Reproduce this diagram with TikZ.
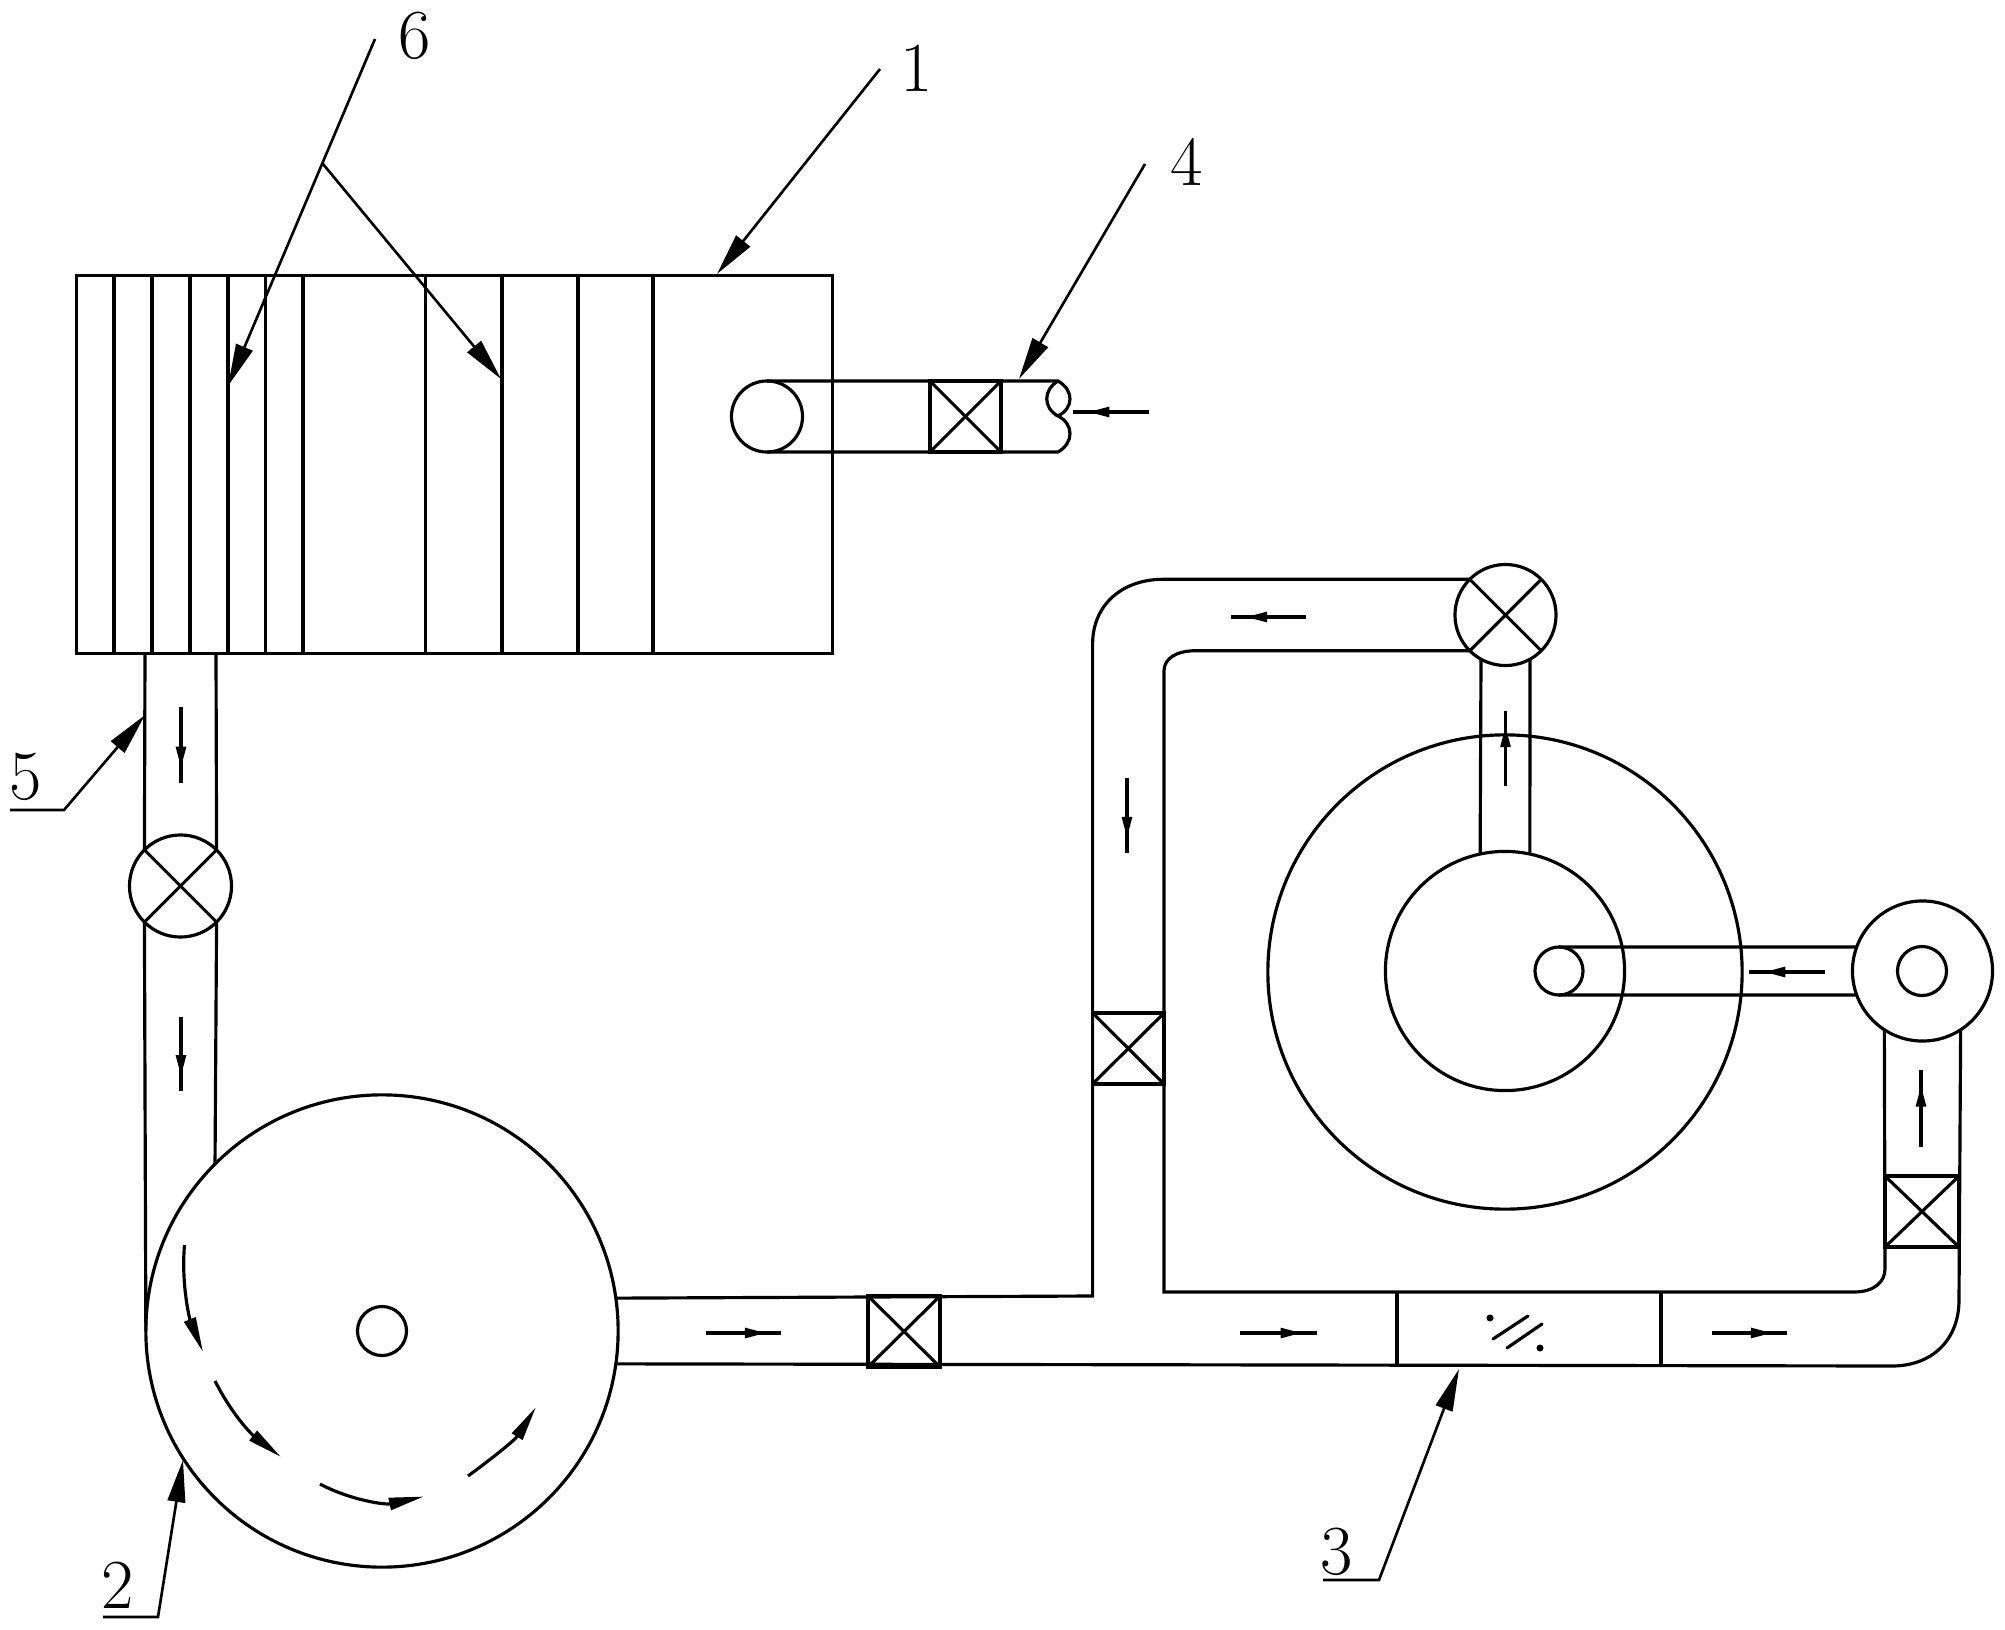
\documentclass[tikz,border=0pt]{standalone}
\usepackage{xcolor}
\usetikzlibrary{arrows.meta,decorations.markings}

\tikzset{
    pipe/.style={line width=0.9pt},
    ring/.style={draw, circle, line width=0.9pt, inner sep=0pt, outer sep=0pt},
    valvebox/.style={draw, rectangle, line width=0.9pt, inner sep=0pt, outer sep=0pt},
    leader/.style={line width=0.75pt, -{Triangle[length=12pt,width=5pt]}},
    tag/.style={inner sep=0pt, font=\fontsize{20}{24}\selectfont},
    flow/.style={line width=0.9pt, postaction={decorate}, decoration={markings,
        mark=at position 0.8 with {\arrow{Triangle[length=6pt,width=2.8pt]}}}},
    swirl/.style={line width=0.9pt, -{Triangle[length=10pt,width=3.4pt]}},
}

\begin{document}
\begin{tikzpicture}[x=0.01cm, y=-0.01cm]
    \useasboundingbox (0,0) rectangle (2005,1630);

    % dryer box and its partitions
    \node[valvebox, minimum width=7.55cm, minimum height=3.77cm] (box) at (454.5,464.5) {};
    \foreach \px in {114,152,190,228,265.5,303,425.5,502,578,653}
        \draw[pipe] (\px,276) -- (\px,653);

    % rings
    \node[ring, minimum size=1.02cm] (valveA) at (180.5,886) {};
    \node[ring, minimum size=1.01cm] (valveB) at (1505.5,615) {};
    \node[ring, minimum size=4.72cm] (drum) at (382,1331) {};
    \node[ring, minimum size=0.49cm] (drumhub) at (382,1331) {};
    \node[ring, minimum size=4.74cm] (outer) at (1505,972) {};
    \node[ring, minimum size=2.39cm] (inner) at (1505,971) {};
    \node[ring, minimum size=0.48cm] (hole) at (1559,971) {};
    \node[ring, minimum size=1.40cm] (fan) at (1922.5,971) {};
    \node[ring, minimum size=0.49cm] (fanhub) at (1922,971) {};
    \node[ring, minimum size=0.71cm] (inlet) at (767,416.5) {};

    % square valves
    \node[valvebox, minimum width=0.71cm, minimum height=0.71cm] (gateA) at (965.5,416.5) {};
    \node[valvebox, minimum width=0.72cm, minimum height=0.71cm] (gateB) at (904,1331.5) {};
    \node[valvebox, minimum width=0.715cm, minimum height=0.71cm] (gateC) at (1128.3,1048.5) {};
    \node[valvebox, minimum width=0.74cm, minimum height=0.71cm] (gateD) at (1922,1211.5) {};
    \foreach \g in {gateA,gateB,gateC,gateD} {
        \draw[pipe] (\g.north west) -- (\g.south east);
        \draw[pipe] (\g.south west) -- (\g.north east);
    }
    \foreach \v/\a/\b in {valveA/45/225,valveA/135/315,valveB/45/225,valveB/135/315}
        \draw[pipe] (\v.\a) -- (\v.\b);

    % inlet pipe with broken end
    \draw[pipe] (inlet.north) -- (1058,381)
        .. controls (1074,390) and (1074,408) .. (1058,416)
        .. controls (1074,424) and (1074,443) .. (1058,452) -- (inlet.south);
    \draw[pipe] (1058,381) .. controls (1043,390) and (1043,408) .. (1058,416);

    % pipe from box down to the drum
    \draw[pipe] (145,653) -- (valveA.135);
    \draw[pipe] (216,653) -- (valveA.45);
    \draw[pipe] (valveA.225) -- (drum.west);
    \draw[pipe] (valveA.315) -- (drum.135);

    % drum outlet, branch and return
    \draw[pipe] (drum.8.5) -- (1092.6,1296) -- (1092.6,644)
        .. controls (1092.6,605) and (1122,579.3) .. (1163,579.3) -- (valveB.135);
    \draw[pipe] (valveB.225) -- (1196,650.7)
        .. controls (1177,650.7) and (1164,658) .. (1164,671) -- (1164,1292)
        -- (1854,1292) .. controls (1874,1292) and (1885,1282) .. (1885,1269) -- (fan.237);
    \draw[pipe] (drum.-8.5) -- (1892,1366)
        .. controls (1932,1366) and (1959,1340) .. (1959,1300) -- (fan.303);
    \draw[pipe] (1397,1292) -- (1397,1366);
    \draw[pipe] (1661,1292) -- (1661,1366);

    % filter mark
    \draw[pipe, line cap=round] (1493,1339) -- (1528,1316);
    \draw[pipe, line cap=round] (1507,1348) -- (1542,1324);
    \fill (1490,1318) circle (3.5);
    \fill (1540,1348) circle (3.5);

    % heater pipes
    \draw[pipe] (valveB.241) -- (inner.102);
    \draw[pipe] (valveB.299) -- (inner.78);
    \draw[pipe] (hole.north) -- (fan.160);
    \draw[pipe] (hole.south) -- (fan.200);

    % flow arrows
    \foreach \xa/\ya/\xb/\yb in {1149/412/1073/412, 181/707/181/783, 181/1017/181/1091,
        706/1333/781/1333, 1240/1333/1317/1333, 1712/1333/1787/1333, 1306/617/1231/617,
        1127/778/1127/853, 1505.5/786/1505.5/711, 1825/972/1749/972, 1921/1147/1921/1070}
        \draw[flow] (\xa,\ya) -- (\xb,\yb);

    % drum rotation
    \draw[swirl] (184.5,1245) .. controls (181,1285) and (190,1320) .. (203,1352);
    \draw[swirl] (215,1381) .. controls (235,1420) and (255,1437) .. (281,1457);
    \draw[swirl] (320,1484) .. controls (350,1500) and (385,1505) .. (424,1496.5);
    \draw[swirl] (468,1476) .. controls (490,1460) and (515,1440) .. (536,1407);

    % labels
    \node[tag] (tagA) at (917,68) {1};
    \node[tag] (tagB) at (118,1585) {2};
    \node[tag] (tagC) at (1337,1552) {3};
    \node[tag] (tagD) at (1187,162) {4};
    \node[tag] (tagE) at (26,777) {5};
    \node[tag] (tagF) at (415,36) {6};

    \coordinate (startA) at (880,69);
    \coordinate (tipA) at (717,274);
    \coordinate (startD) at (1145,164);
    \coordinate (tipD) at (1019,379);
    \coordinate (startF) at (375,39);
    \coordinate (forkF) at (323,164);
    \coordinate (tipF) at (228,386);
    \coordinate (tipG) at (501,379);
    \coordinate (lineB) at (103,1617);
    \coordinate (kneeB) at (158,1617);
    \coordinate (tipB) at (183,1460);
    \coordinate (lineC) at (1323,1580);
    \coordinate (kneeC) at (1379,1580);
    \coordinate (tipC) at (1459,1369);
    \coordinate (lineE) at (10,810);
    \coordinate (kneeE) at (64,810);
    \coordinate (tipE) at (145,715);

    \draw[leader] (startA) -- (tipA);
    \draw[leader] (startD) -- (tipD);
    \draw[leader] (startF) -- (tipF);
    \draw[leader] (forkF) -- (tipG);
    \draw[leader] (lineB) -- (kneeB) -- (tipB);
    \draw[leader] (lineC) -- (kneeC) -- (tipC);
    \draw[leader] (lineE) -- (kneeE) -- (tipE);
\end{tikzpicture}
\end{document}
